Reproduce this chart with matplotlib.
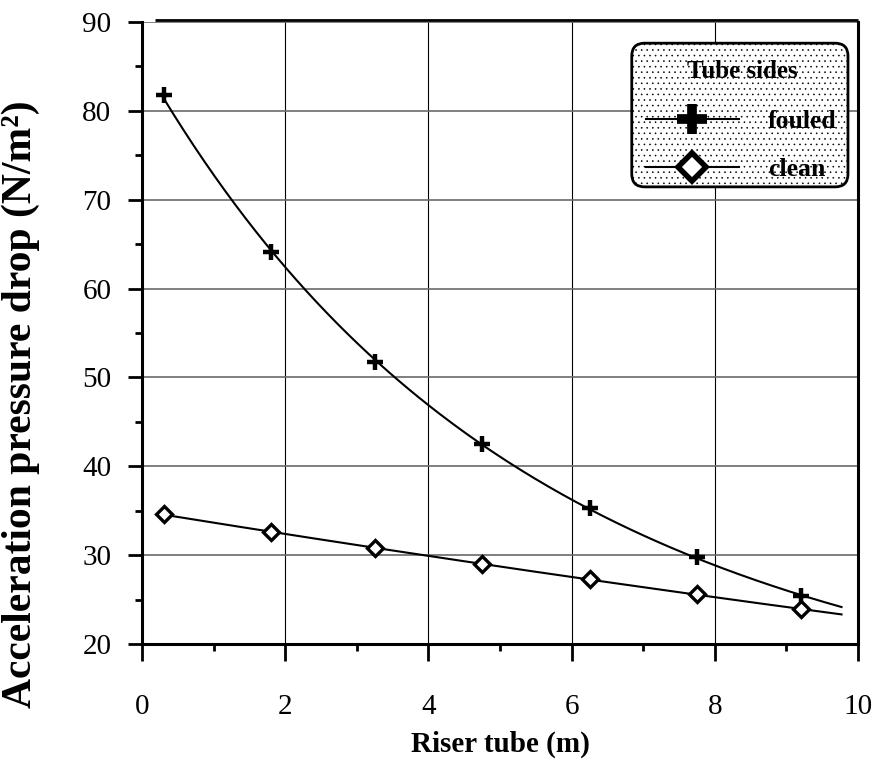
import numpy as np
import matplotlib
matplotlib.use("Agg")
import matplotlib.pyplot as plt
from matplotlib.lines import Line2D
from matplotlib.patches import FancyBboxPatch
from matplotlib.ticker import MultipleLocator

plt.rcParams['font.family'] = ['Liberation Serif', 'DejaVu Serif']
plt.rcParams['hatch.color'] = '#ebebeb'
plt.rcParams['hatch.linewidth'] = 0.4

# riser tube position (m) and acceleration pressure drop (N/m2)
riser = [0.3, 1.8, 3.25, 4.75, 6.25, 7.75, 9.2]
fouled = [81.8, 64.1, 51.7, 42.5, 35.3, 29.8, 25.4]
clean = [34.6, 32.6, 30.8, 29.0, 27.3, 25.6, 23.9]
trend_end = 9.77

fig = plt.figure(figsize=(8.74, 7.6), dpi=100)
ax = fig.add_axes([0.1625, 0.1526, 0.8192, 0.8184])

# smooth trend curves fitted to each series
xs = np.linspace(riser[0], trend_end, 200)
fit_f = np.exp(np.polyval(np.polyfit(riser, np.log(fouled), 2), xs))
fit_c = np.polyval(np.polyfit(riser, clean, 2), xs)
ax.plot(xs, fit_f, color='black', lw=1.5, zorder=3)
ax.plot(xs, fit_c, color='black', lw=1.5, zorder=3)

ax.plot(riser, fouled, ls='none', marker='+', ms=11, mew=3.2,
        color='black', zorder=4)
ax.plot(riser, clean, ls='none', marker='D', ms=8.5, mew=2.4,
        mfc='white', mec='black', zorder=4)

ax.set_xlim(0, 10)
ax.set_ylim(20, 90)
ax.xaxis.set_major_locator(MultipleLocator(2))
ax.xaxis.set_minor_locator(MultipleLocator(1))
ax.yaxis.set_major_locator(MultipleLocator(10))
ax.yaxis.set_minor_locator(MultipleLocator(5))

ax.tick_params(which='major', direction='out', width=2, labelsize=21)
ax.tick_params(axis='y', which='major', length=10, pad=12)
ax.tick_params(axis='x', which='major', length=12, pad=24)
ax.tick_params(which='minor', direction='out', width=2, length=5)

ax.set_axisbelow(True)
ax.xaxis.grid(True, color='black', lw=0.8)
ax.yaxis.grid(True, color='#6a6a6a', lw=1.2)

for side in ('left', 'bottom', 'right'):
    ax.spines[side].set_linewidth(2.2)
ax.spines['top'].set_visible(False)
ax.plot([0.018, 1.0], [1.004, 1.004], transform=ax.transAxes,
        color='black', lw=2, clip_on=False, solid_capstyle='butt')

ax.set_xlabel('Riser tube (m)', fontsize=21, fontweight='bold', labelpad=8)
ax.set_ylabel('Acceleration pressure drop (N/m²)', fontsize=30,
              fontweight='bold')
ax.yaxis.set_label_coords(-0.142, 0.385)

# legend box: dotted fill plus rounded outline
box = dict(boxstyle='round,pad=0,rounding_size=0.018',
           transform=ax.transAxes, mutation_aspect=716 / 622)
ax.add_patch(FancyBboxPatch((0.684, 0.735), 0.302, 0.231, facecolor='white',
                            hatch='...', lw=0, zorder=5, **box))
ax.add_patch(FancyBboxPatch((0.684, 0.735), 0.302, 0.231, facecolor='none',
                            edgecolor='black', lw=2, zorder=6, **box))
ax.text(0.838, 0.921, 'Tube sides', transform=ax.transAxes, ha='center',
        va='center', fontsize=18, fontweight='bold', zorder=7)

handles = [
    Line2D([], [], color='black', lw=1.5, marker='+', ms=21, mew=7),
    Line2D([], [], color='black', lw=1.5, marker='D', ms=14, mew=4,
           mfc='white', mec='black'),
]
leg = ax.legend(handles, ['fouled', 'clean'],
                loc='upper left', bbox_to_anchor=(0.704, 0.858),
                frameon=False, borderpad=0, borderaxespad=0,
                handlelength=3.6, handletextpad=1.15, labelspacing=0.95,
                prop={'weight': 'bold', 'size': 18.5})
leg.set_zorder(7)

fig.savefig('out.png', dpi=100)
